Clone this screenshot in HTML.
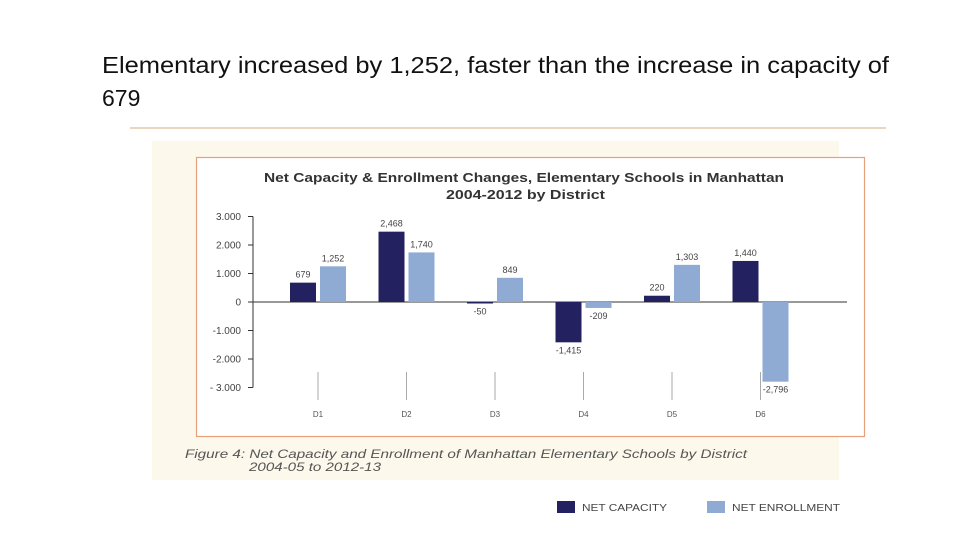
<!DOCTYPE html>
<html><head><meta charset="utf-8"><style>
html,body{margin:0;padding:0;background:#fff;}
svg{display:block;font-family:"Liberation Sans",sans-serif;}
</style></head><body>
<svg id="chart" width="960" height="540" viewBox="0 0 960 540">
<text x="102" y="73" font-size="23" fill="#111" textLength="787" lengthAdjust="spacingAndGlyphs">Elementary increased by 1,252, faster than the increase in capacity of</text>
<text x="102" y="106" font-size="23" fill="#111">679</text>
<line x1="130" y1="128" x2="886" y2="128" stroke="#e2c9a8" stroke-width="1.5"/>
<rect x="152" y="141" width="687" height="339" fill="#fdf8ec"/>
<rect x="196.5" y="157.5" width="668" height="279" fill="#fff" stroke="#e8a07c" stroke-width="1.2"/>
<text x="264" y="182" font-size="12.5" font-weight="bold" fill="#333" textLength="520" lengthAdjust="spacingAndGlyphs">Net Capacity &amp; Enrollment Changes, Elementary Schools in Manhattan</text>
<text x="446" y="199" font-size="12.5" font-weight="bold" fill="#333" textLength="159" lengthAdjust="spacingAndGlyphs">2004-2012 by District</text>
<g id="yaxis"></g>
<g id="bars"></g>
<text x="185" y="458" font-size="12" font-style="italic" fill="#555" textLength="562" lengthAdjust="spacingAndGlyphs">Figure 4: Net Capacity and Enrollment of Manhattan Elementary Schools by District</text>
<text x="249" y="471" font-size="12" font-style="italic" fill="#555" textLength="132" lengthAdjust="spacingAndGlyphs">2004-05 to 2012-13</text>
<g>
<rect x="557" y="501" width="18" height="12" fill="#23215f"/>
<text x="582" y="511" font-size="10" fill="#444" textLength="85" lengthAdjust="spacingAndGlyphs">NET CAPACITY</text>
<rect x="707" y="501" width="18" height="12" fill="#8fabd4"/>
<text x="732" y="511" font-size="10" fill="#444" textLength="108" lengthAdjust="spacingAndGlyphs">NET ENROLLMENT</text>
</g>
</svg>
<script>
const categories = ["D1","D2","D3","D4","D5","D6"];
const capacity = [679, 2468, -50, -1415, 220, 1440];
const enrollment = [1252, 1740, 849, -209, 1303, -2796];
const capLabels = ["679","2,468","-50","-1,415","220","1,440"];
const enrLabels = ["1,252","1,740","849","-209","1,303","-2,796"];
const yTicks = [3000,2000,1000,0,-1000,-2000,-3000];
const yTickLabels = ["3.000","2.000","1.000","0","-1.000","-2.000","- 3.000"];

const NS = "http://www.w3.org/2000/svg";
const y = v => 302 - v * 0.0285;
const xc = i => 318 + i * 88.5;
function mk(tag, attrs, parent, text){
  const e = document.createElementNS(NS, tag);
  for (const k in attrs) e.setAttribute(k, attrs[k]);
  if (text !== undefined) e.textContent = text;
  parent.appendChild(e); return e;
}
const ya = document.getElementById("yaxis");
let l = mk("line",{x1:253,y1:y(3000),x2:253,y2:y(-3000),stroke:"#333","stroke-width":1},ya);


yTicks.forEach((t,i)=>{
  const tk = mk("line",{x1:248,y1:y(t),x2:253,y2:y(t),stroke:"#333"},ya);
  
  
  const tx = mk("text",{x:241,y:y(t)+3.5,"font-size":10,fill:"#444","text-anchor":"end"},ya,yTickLabels[i]);
  
  
});
const z = mk("line",{x1:253,y1:y(0),x2:847,y2:y(0),stroke:"#333","stroke-width":1},ya);


const bg = document.getElementById("bars");
categories.forEach((c,i)=>{
  const cx = xc(i);
  const cl = mk("line",{x1:cx,y1:372,x2:cx,y2:400,stroke:"#aaa"},bg);
  
  
  const lab = mk("text",{x:cx,y:417,"font-size":8,fill:"#555","text-anchor":"middle"},bg,c);
  
  
  [[capacity,capLabels,"#23215f",-28,"capacity"],[enrollment,enrLabels,"#8fabd4",2,"enrollment"]].forEach(([arr,labs,col,off,nm])=>{
    const v = arr[i];
    const top = Math.min(y(v), y(0)), h = Math.max(Math.abs(y(v)-y(0)),1.5);
    const r = mk("rect",{x:cx+off,y:top,width:26,height:h,fill:col},bg);
    
    
    const ty = v >= 0 ? y(v) - 5 : y(v) + 11;
    const t = mk("text",{x:cx+off+13,y:ty,"font-size":9,fill:"#444","text-anchor":"middle"},bg,labs[i]);
    
    
  });
});
</script>
</body></html>
